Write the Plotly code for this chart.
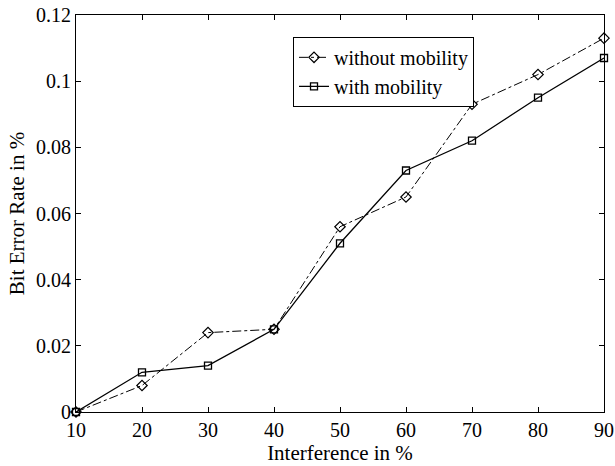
import plotly.graph_objects as go

interference = [10, 20, 30, 40, 50, 60, 70, 80, 90]
ber_without_mobility = [0.0, 0.008, 0.024, 0.025, 0.056, 0.065, 0.093, 0.102, 0.113]
ber_with_mobility = [0.0, 0.012, 0.014, 0.025, 0.051, 0.073, 0.082, 0.095, 0.107]

y_ticks = [0, 0.02, 0.04, 0.06, 0.08, 0.1, 0.12]
y_tick_text = ["0", "0.02", "0.04", "0.06", "0.08", "0.1", "0.12"]

fig = go.Figure()
fig.add_trace(go.Scatter(
    x=interference, y=ber_without_mobility, mode="lines+markers",
    name="without mobility",
    line=dict(color="black", width=1, dash="dashdot"),
    marker=dict(symbol="diamond-open", size=8, color="black", line=dict(width=1.2)),
    cliponaxis=False))
fig.add_trace(go.Scatter(
    x=interference, y=ber_with_mobility, mode="lines+markers",
    name="with mobility",
    line=dict(color="black", width=1.3),
    marker=dict(symbol="square-open", size=7, color="black", line=dict(width=1.3)),
    cliponaxis=False))

axis_style = dict(showgrid=False, zeroline=False, showline=True, linecolor="black",
                  linewidth=1, mirror="ticks", ticks="inside", ticklen=5,
                  tickcolor="black", tickfont=dict(size=20, color="black"),
                  automargin=False, ticklabeloverflow="allow")

fig.update_xaxes(range=[10, 90], tickvals=interference,
                 title=dict(text="Interference in %", font=dict(size=21, color="black"), standoff=0),
                 **axis_style)
fig.update_yaxes(range=[0, 0.12], tickvals=y_ticks, ticktext=y_tick_text,
                 title=dict(text="Bit Error Rate in %", font=dict(size=21, color="black"), standoff=5),
                 **axis_style)

fig.update_layout(
    width=615, height=466,
    margin=dict(l=76, r=11, t=15, b=54),
    paper_bgcolor="white", plot_bgcolor="white",
    font=dict(family="Liberation Serif, Times New Roman, serif", color="black"),
    legend=dict(x=0.411, y=0.945, xanchor="left", yanchor="top",
                bgcolor="white", bordercolor="black", borderwidth=1,
                font=dict(size=20), tracegroupgap=0, itemwidth=30),
    showlegend=True)

# drop the default page margin so the figure sits at the window's corner
fig.write_html("out.html", config={"displayModeBar": False},
               post_script="document.body.style.margin='0';")
